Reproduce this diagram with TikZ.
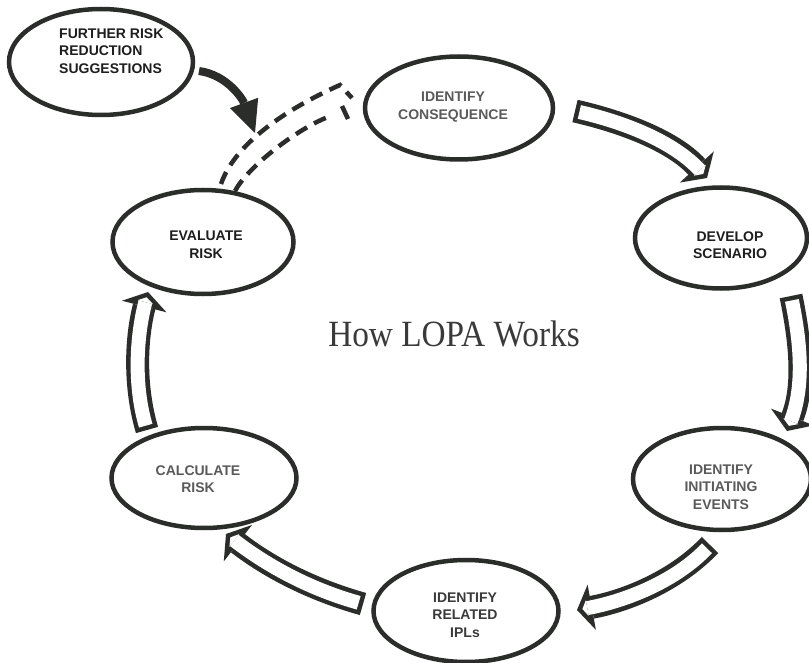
\documentclass[tikz,border=0pt]{standalone}
\usepackage{fontspec}
\setmainfont{Liberation Serif}
\newfontfamily\labfont{Liberation Sans}
\usetikzlibrary{shapes.geometric,arrows.meta}
\definecolor{dk}{HTML}{2B2D2B}
\definecolor{txtA}{HTML}{1E1E1E}
\definecolor{txtB}{HTML}{3A3A3A}
\definecolor{txtC}{HTML}{5A5A5A}
\newcommand{\hollowarrow}[4]{%
  \draw[blockout] (#1) .. controls (#2) and (#3) .. (#4);
  \draw[blockin] (#1) .. controls (#2) and (#3) .. (#4);}
\begin{document}
\begin{tikzpicture}[x=1pt,y=-1pt,
  stage/.style={ellipse, draw=dk, line width=4.5pt, fill=white, inner sep=0pt},
  lab/.style={align=center, inner sep=0pt, font=\labfont\bfseries\fontsize{14}{17.5}\selectfont},
  blockout/.style={draw=dk, line width=23pt, -{Triangle[width=46pt,length=15pt,line width=0pt]}},
  blockin/.style={draw=white, line width=14pt, shorten <=4.5pt, shorten >=5.5pt, -{Triangle[width=16pt,length=5pt,line width=0pt]}},
  dashline/.style={draw=dk, line width=4.5pt, dash pattern=on 13pt off 8pt},
  solidarrow/.style={draw=dk, line width=8pt, -{Triangle[width=30pt,length=32pt,line width=0pt]}}
  ]
\useasboundingbox (0,0) rectangle (809,663);
\clip (0,0) rectangle (809,663);
\fill[white] (0,0) rectangle (809,663);

% arrow coordinates
\coordinate (aS) at (575,111); \coordinate (aC1) at (623,122); \coordinate (aC2) at (673,141); \coordinate (aT) at (707,178);
\coordinate (bS) at (791,296); \coordinate (bC1) at (800,340); \coordinate (bC2) at (805,385); \coordinate (bT) at (787,431);
\coordinate (cS) at (710,545); \coordinate (cC1) at (676,581); \coordinate (cC2) at (626,601); \coordinate (cT) at (577,610);
\coordinate (dS) at (363,604); \coordinate (dC1) at (313,590); \coordinate (dC2) at (270,568); \coordinate (dT) at (226,534);
\coordinate (eS) at (147,430); \coordinate (eC1) at (134,386); \coordinate (eC2) at (136,338); \coordinate (eT) at (148,292);

\hollowarrow{aS}{aC1}{aC2}{aT}
\hollowarrow{bS}{bC1}{bC2}{bT}
\hollowarrow{cS}{cC1}{cC2}{cT}
\hollowarrow{dS}{dC1}{dC2}{dT}
\hollowarrow{eS}{eC1}{eC2}{eT}

% dashed outline arrow from Evaluate toward Consequence
\coordinate (fo1) at (221,184); \coordinate (fo2) at (340,85); \coordinate (fo3) at (352,98);
\coordinate (fo4) at (342,106); \coordinate (fo5) at (348,119);
\coordinate (fi1) at (235,191); \coordinate (fi2) at (328,117);
\draw[dashline] (fo1) .. controls (236,140) and (295,105) .. (fo2) -- (fo3);
\draw[draw=dk, line width=4.5pt] (fo4) -- (fo5);
\draw[dashline] (fi1) .. controls (247,168) and (295,130) .. (fi2);

% solid arrow from Further risk
\coordinate (gS) at (199,71); \coordinate (gT) at (255,133);
\draw[solidarrow] (gS) .. controls (228,75) and (243,100) .. (gT);

% ellipses
\node[stage, minimum width=184pt, minimum height=106pt] (fur) at (101,62) {};
\node[stage, minimum width=188pt, minimum height=103pt] (con) at (459,108) {};
\node[stage, minimum width=172pt, minimum height=101pt] (dev) at (721,238) {};
\node[stage, minimum width=178pt, minimum height=102pt] (ini) at (722,479) {};
\node[stage, minimum width=185pt, minimum height=102pt] (ipl) at (466,611) {};
\node[stage, minimum width=185pt, minimum height=100pt] (cal) at (204,478) {};
\node[stage, minimum width=181pt, minimum height=104pt] (eva) at (203,242) {};

% labels
\node[lab, align=left, anchor=west, text=txtA] (furt) at (59,51) {FURTHER RISK\\REDUCTION\\SUGGESTIONS};
\node[lab, text=txtC] (cont) at (453,107) {IDENTIFY\\CONSEQUENCE};
\node[lab, text=txtA] (devt) at (730,245) {DEVELOP\\SCENARIO};
\node[lab, text=txtC] (init) at (721,487) {IDENTIFY\\INITIATING\\EVENTS};
\node[lab, text=txtB] (iplt) at (465,615) {IDENTIFY\\RELATED\\IPLs};
\node[lab, text=txtC] (calt) at (198,479) {CALCULATE\\RISK};
\node[lab, text=txtA] (evat) at (206,245) {EVALUATE\\RISK};

% title
\node[inner sep=0pt, text=txtB] (title) at (454,334) {\scalebox{0.9}[1]{\fontsize{37}{40}\selectfont How LOPA Works}};
\end{tikzpicture}
\end{document}
